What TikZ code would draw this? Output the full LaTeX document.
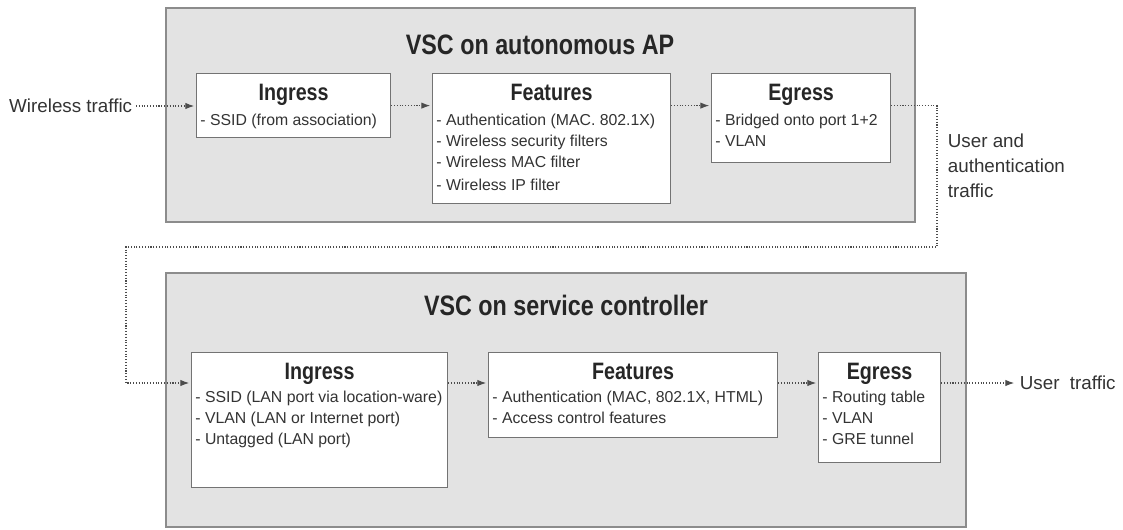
\documentclass[tikz,border=0pt]{standalone}
\usepackage{fontspec}
\setmainfont{Liberation Sans}
\newfontfamily\headfont{Liberation Sans}[FakeStretch=0.83]
\usetikzlibrary{positioning,arrows.meta}

\begin{document}
\begin{tikzpicture}[x=0.02cm,y=-0.02cm,
  panel/.style={fill=black!11, draw=black!45, line width=0.6pt},
  stage/.style={draw=black!55, fill=white, line width=0.7pt, anchor=north west, inner sep=0pt},
  stagehead/.style={inner sep=0pt, text=black!85, font=\headfont\bfseries\fontsize{13.5}{16}\selectfont},
  paneltitle/.style={inner sep=0pt, text=black!85, font=\headfont\bfseries\fontsize{16}{19}\selectfont},
  items/.style={inner sep=0pt, align=left, text=black!80, font=\fontsize{9}{11.9}\selectfont},
  side/.style={inner sep=2pt, align=left, text=black!80, font=\fontsize{10.7}{14.2}\selectfont},
  flow/.style={densely dotted, black!70, line width=0.6pt, -{Latex[length=5pt,width=3.6pt]}, shorten >=1pt}]
  \useasboundingbox (0,0) rectangle (1123,529);

  % the two panels
  \draw[panel] (166,8) rectangle (915,222);
  \draw[panel] (166,273) rectangle (966,527);
  \node[paneltitle] (toptitle) at (540,45) {VSC on autonomous AP};
  \node[paneltitle] (bottitle) at (566,305) {VSC on service controller};

  % autonomous AP
  \node[stage, minimum width=3.88cm, minimum height=1.28cm] (ti) at (196,73) {};
  \node[stagehead, below=6pt of ti.north] (tih) {Ingress};
  \node[items, below right=23pt and 2.3pt of ti.north west] (tii) {- SSID (from association)};

  \node[stage, minimum width=4.76cm, minimum height=2.60cm] (tf) at (432,73) {};
  \node[stagehead, below=6pt of tf.north] (tfh) {Features};
  \node[items, below right=23pt and 2.3pt of tf.north west] (tfi)
    {- Authentication (MAC. 802.1X)\\- Wireless security filters\\- Wireless MAC filter\\[1.5pt]- Wireless IP filter};

  \node[stage, minimum width=3.58cm, minimum height=1.78cm] (te) at (711,73) {};
  \node[stagehead, below=6pt of te.north] (teh) {Egress};
  \node[items, below right=23pt and 2.3pt of te.north west] (tei) {- Bridged onto port 1+2\\- VLAN};

  % service controller
  \node[stage, minimum width=5.12cm, minimum height=2.70cm] (bi) at (191,352) {};
  \node[stagehead, below=6pt of bi.north] (bih) {Ingress};
  \node[items, below right=22pt and 2.3pt of bi.north west] (bii)
    {- SSID (LAN port via location-ware)\\- VLAN (LAN or Internet port)\\- Untagged (LAN port)};

  \node[stage, minimum width=5.78cm, minimum height=1.70cm] (bf) at (488,352) {};
  \node[stagehead, below=6pt of bf.north] (bfh) {Features};
  \node[items, below right=22pt and 2.3pt of bf.north west] (bfi)
    {- Authentication (MAC, 802.1X, HTML)\\- Access control features};

  \node[stage, minimum width=2.44cm, minimum height=2.20cm] (be) at (818,352) {};
  \node[stagehead, below=6pt of be.north] (beh) {Egress};
  \node[items, below right=22pt and 2.3pt of be.north west] (bei) {- Routing table\\- VLAN\\- GRE tunnel};

  % outside labels
  \node[side, anchor=east] (wt) at (136,106) {Wireless traffic};
  \node[side, anchor=north west] (uat) at (944,130) {User and\\authentication\\traffic};
  \coordinate (lvl) at (0,383);
  \node[side, anchor=west] (ut) at (1016,383) {User\ \ traffic};

  % traffic flow
  \draw[flow] (wt.east) -- (wt.east -| ti.west);
  \draw[flow] (ti.east) -- (ti.east -| tf.west);
  \draw[flow] (ti.east -| tf.east) -- (ti.east -| te.west);
  \coordinate (turn) at (937,247);
  \coordinate (back) at (126,247);
  \draw[flow] (ti.east -| te.east) -| (turn) -- (back) |- (lvl -| bi.west);
  \draw[flow] (lvl -| bi.east) -- (lvl -| bf.west);
  \draw[flow] (lvl -| bf.east) -- (lvl -| be.west);
  \draw[flow] (lvl -| be.east) -- (lvl -| ut.west);
\end{tikzpicture}
\end{document}
